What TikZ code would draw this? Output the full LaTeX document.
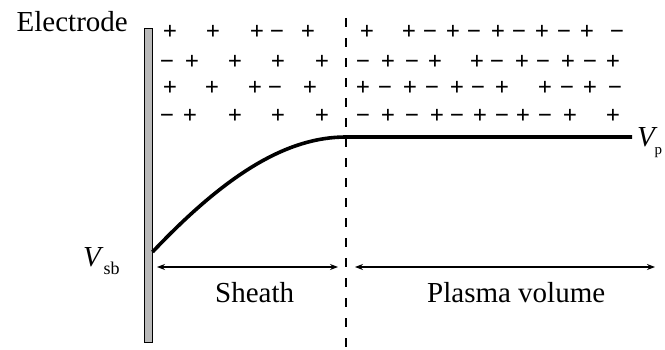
\documentclass[tikz,border=0pt]{standalone}
\usepackage{fontspec}
\setmainfont{Liberation Serif}
\usetikzlibrary{arrows.meta}

\tikzset{
  charge/.style={inner sep=0pt, anchor=base, font=\fontsize{25}{25}\selectfont\bfseries},
  caption/.style={inner sep=0pt, anchor=base west, font=\fontsize{29}{30}\selectfont},
  span/.style={{Stealth[length=8pt,width=6pt]}-{Stealth[length=8pt,width=6pt]}, line width=1.3pt},
  potential/.style={line width=3.6pt},
}

\begin{document}
\begin{tikzpicture}[x=1pt,y=-1pt]
  \useasboundingbox (0,0) rectangle (665,350);
  \clip (0,0) rectangle (665,350);

  % electrode plate
  \node[draw, line width=1.2pt, fill=gray!55, minimum width=8pt, minimum height=314pt,
        inner sep=0pt, anchor=north] (plate) at (148.5,28) {};
  \node[caption, anchor=base east] (electrode) at (128,32) {Electrode};

  % sheath edge
  \coordinate (edgetop) at (346,18);
  \coordinate (edgebot) at (346,352);
  \draw[line width=2pt, dash pattern=on 9pt off 11pt] (edgetop) -- (edgebot);

  % space charge (baselines sit 6.5pt below each row's centre line)
  \foreach \x/\s in {170/+, 213/+, 257/+, 277/−, 308/+, 367/+, 409/+, 430/−, 453/+, 474/−,
                     498/+, 519/−, 542/+, 564/−, 587/+, 617/−}
    \node[charge] (ra-\x) at (\x,39.5) {\s};
  \foreach \x/\s in {167/−, 192/+, 235/+, 278/+, 322/+, 363/−, 388/+, 412/−, 435/+, 477/+,
                     497/−, 522/+, 543/−, 568/+, 590/−, 613/+}
    \node[charge] (rb-\x) at (\x,69.5) {\s};
  \foreach \x/\s in {170/+, 212/+, 255/+, 275/−, 310/+, 363/+, 385/−, 410/+, 432/−, 457/+,
                     478/−, 502/+, 545/+, 567/−, 590/+, 615/−}
    \node[charge] (rc-\x) at (\x,95.5) {\s};
  \foreach \x/\s in {167/−, 190/+, 235/+, 278/+, 322/+, 363/−, 388/+, 412/−, 437/+, 457/−,
                     480/+, 502/−, 523/+, 545/−, 570/+, 613/+}
    \node[charge] (rd-\x) at (\x,123.5) {\s};

  % potential profile
  \coordinate (vsb) at (152.5,252);
  \coordinate (knee) at (346,137);
  \coordinate (vpend) at (632,137);
  \draw[potential] (vsb) .. controls (230,170) and (290,137) .. (knee) -- (vpend);

  \node[caption] (vsblabel) at (83,267)
    {\textit{V}\raisebox{-8pt}{\fontsize{18}{18}\selectfont sb}};
  \node[caption] (vplabel) at (637,147)
    {\textit{V}\kern-3pt\raisebox{-8pt}{\fontsize{15}{15}\selectfont p}};

  % regions
  \coordinate (sheathl) at (157,267);
  \coordinate (sheathr) at (338,267);
  \coordinate (plasmal) at (355,267);
  \coordinate (plasmar) at (655,267);
  \draw[span] (sheathl) -- (sheathr);
  \draw[span] (plasmal) -- (plasmar);
  \node[caption] (sheath) at (215,302) {Sheath};
  \node[caption] (plasma) at (427,302) {Plasma volume};
\end{tikzpicture}
\end{document}
